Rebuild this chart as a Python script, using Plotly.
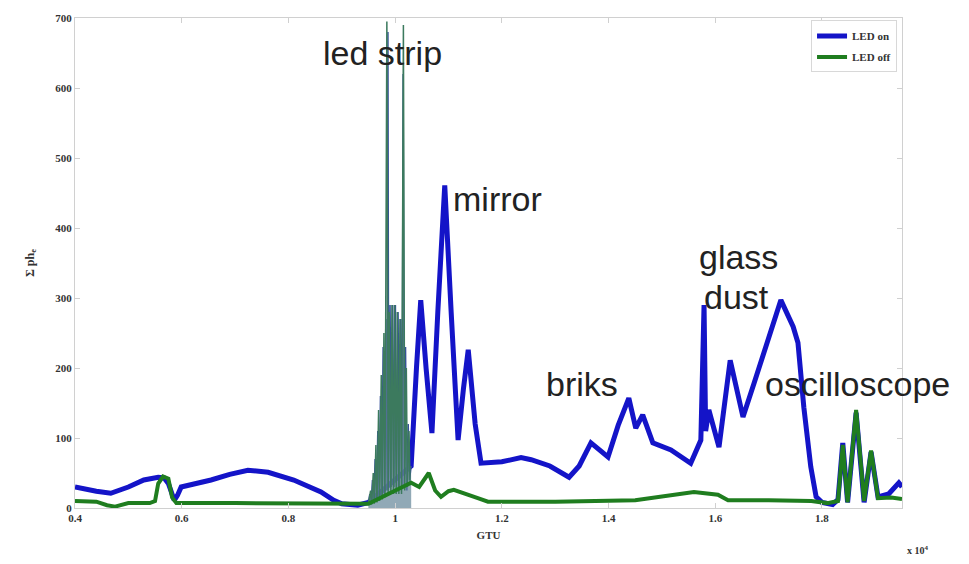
import plotly.graph_objects as go

# ---------------- data (x in units of 10^4 GTU) ----------------
led_on_x = [0.400, 0.406, 0.440, 0.467, 0.500, 0.529, 0.556, 0.567, 0.575, 0.586, 0.592, 0.599,
            0.630, 0.655, 0.690, 0.724, 0.762, 0.810, 0.861, 0.885, 0.900, 0.930, 0.950,
            1.030, 1.040, 1.048, 1.058, 1.069, 1.080, 1.093, 1.105, 1.118, 1.128, 1.137, 1.150, 1.161,
            1.200, 1.236, 1.255, 1.290, 1.326, 1.345, 1.367, 1.380, 1.399, 1.418, 1.438, 1.451,
            1.464, 1.483, 1.517, 1.554, 1.567, 1.573, 1.579, 1.582, 1.588, 1.607, 1.628, 1.652,
            1.673, 1.699, 1.723, 1.746, 1.755, 1.766, 1.779, 1.789, 1.800, 1.820, 1.830, 1.839,
            1.848, 1.864, 1.879, 1.892, 1.905, 1.925, 1.944, 1.950]
led_on_y = [30, 29, 24, 21, 30, 40, 44, 43, 35, 11, 18, 30,
            35, 40, 48, 54, 51, 40, 23, 11, 6, 4, 8,
            60, 200, 297, 200, 107, 280, 461, 280, 97, 170, 226, 120, 64,
            66, 72, 69, 60, 44, 60, 93, 85, 73, 118, 157, 114,
            133, 93, 83, 64, 90, 97, 290, 110, 140, 87, 211, 130,
            179, 240, 297, 259, 236, 144, 59, 16, 8, 5, 12, 93,
            8, 136, 8, 80, 16, 20, 36, 30]

# dense oscillation in the LED-strip region (LED on)
strip_on_x = [0.9500, 0.9525, 0.9550, 0.9575, 0.9600, 0.9625, 0.9650, 0.9675, 0.9700, 0.9725,
              0.9750, 0.9775, 0.9800, 0.9825, 0.9850, 0.9865, 0.9880, 0.9905, 0.9930, 0.9955,
              0.9980, 1.0005, 1.0030, 1.0055, 1.0080, 1.0105, 1.0130, 1.0150, 1.0170, 1.0195,
              1.0220, 1.0245, 1.0270, 1.0300]
strip_on_y = [8, 20, 5, 40, 8, 70, 10, 110, 12, 160,
              15, 230, 20, 270, 25, 680, 30, 290, 30, 290,
              30, 290, 30, 280, 30, 270, 30, 620, 30, 230,
              25, 120, 40, 60]

led_off_x = [0.400, 0.440, 0.460, 0.475, 0.500, 0.540, 0.550, 0.556, 0.565, 0.575, 0.582, 0.590,
             0.700, 0.900, 0.950,
             1.030, 1.045, 1.063, 1.075, 1.086, 1.100, 1.110, 1.130, 1.155, 1.174, 1.300, 1.450,
             1.500, 1.517, 1.560, 1.605, 1.624, 1.700, 1.780, 1.810, 1.830, 1.839, 1.848, 1.864,
             1.879, 1.892, 1.905, 1.930, 1.950]
led_off_y = [10, 9, 4, 2, 7, 7, 10, 35, 45, 42, 15, 7,
             7, 6, 6,
             36, 30, 50, 25, 16, 24, 26, 20, 14, 9, 9, 11,
             16, 19, 23, 19, 11, 11, 10, 7, 10, 90, 8, 140,
             10, 82, 14, 15, 13]

# dense oscillation in the LED-strip region (LED off)
strip_off_x = [0.950, 0.954, 0.956, 0.959, 0.961, 0.964, 0.966, 0.969, 0.971, 0.974, 0.976, 0.979,
               0.981, 0.9845, 0.987, 0.989, 0.992, 0.994, 0.997, 0.999, 1.002, 1.004, 1.007, 1.009,
               1.012, 1.0155, 1.018, 1.021, 1.023, 1.026, 1.028, 1.030]
strip_off_y = [6, 25, 5, 50, 6, 90, 8, 140, 10, 190, 12, 250,
               15, 695, 20, 280, 20, 290, 20, 290, 20, 280, 20, 270,
               20, 690, 25, 200, 30, 110, 35, 36]

x_tick_vals = [0.4, 0.6, 0.8, 1.0, 1.2, 1.4, 1.6, 1.8]
x_tick_text = ["0.4", "0.6", "0.8", "1", "1.2", "1.4", "1.6", "1.8"]
y_tick_vals = [0, 100, 200, 300, 400, 500, 600, 700]

labels_text = ["led strip", "mirror", "glass", "dust", "briks", "oscilloscope"]
labels_x = [0.977, 1.191, 1.643, 1.639, 1.350, 1.866]
labels_y = [650, 441, 358, 302, 177, 177]

# ---------------- figure ----------------
serif = "Liberation Serif, Times New Roman, serif"
fig = go.Figure()
fig.add_trace(go.Scatter(x=led_on_x, y=led_on_y, mode="lines", name="LED on", legendgroup="on",
                         line=dict(color="#1414c8", width=5)))
fig.add_trace(go.Scatter(x=strip_on_x, y=strip_on_y, mode="lines", name="LED on", legendgroup="on",
                         showlegend=False, fill="tozeroy", fillcolor="rgba(95,125,170,0.55)",
                         line=dict(color="#35509a", width=1.5)))
fig.add_trace(go.Scatter(x=strip_off_x, y=strip_off_y, mode="lines", name="LED off", legendgroup="off",
                         showlegend=False, fill="tozeroy", fillcolor="rgba(120,150,150,0.45)",
                         line=dict(color="#3c7a5e", width=1.5)))
fig.add_trace(go.Scatter(x=led_off_x, y=led_off_y, mode="lines", name="LED off", legendgroup="off",
                         line=dict(color="#1f7d1f", width=4)))

for t, ax, ay in zip(labels_text, labels_x, labels_y):
    fig.add_annotation(x=ax, y=ay, text=t, showarrow=False, xanchor="center", yanchor="middle",
                       font=dict(family="Liberation Sans, Arial, sans-serif", size=34, color="#222222"))

fig.add_annotation(xref="paper", yref="paper", x=1.004, y=-0.085, text="x 10<sup>4</sup>",
                   showarrow=False, xanchor="left", yanchor="middle",
                   font=dict(family=serif, size=10, color="#333333", weight="bold"))

axis_common = dict(showline=True, linecolor="#d0d0d0", linewidth=1, mirror="ticks",
                   ticks="inside", ticklen=5, tickcolor="#d0d0d0", showgrid=False, zeroline=False,
                   tickfont=dict(family=serif, size=11, color="#333333", weight="bold"))

fig.update_layout(
    width=969, height=564,
    margin=dict(l=75, r=67, t=14, b=56),
    paper_bgcolor="white", plot_bgcolor="white",
    xaxis=dict(range=[0.4, 1.95], tickvals=x_tick_vals, ticktext=x_tick_text,
               title=dict(text="GTU", standoff=8,
                          font=dict(family=serif, size=11, color="#333333", weight="bold")),
               **axis_common),
    yaxis=dict(range=[0, 700], tickvals=y_tick_vals,
               title=dict(text="Σ ph<sub>e</sub>", standoff=18,
                          font=dict(family=serif, size=12, color="#333333", weight="bold")),
               **axis_common),
    legend=dict(x=0.994, y=0.995, xanchor="right", yanchor="top",
                bordercolor="#d8d8d8", borderwidth=1, bgcolor="white",
                font=dict(family=serif, size=11, color="#333333", weight="bold"),
                itemwidth=30, tracegroupgap=2),
    showlegend=True,
)

fig.write_html("out.html")
